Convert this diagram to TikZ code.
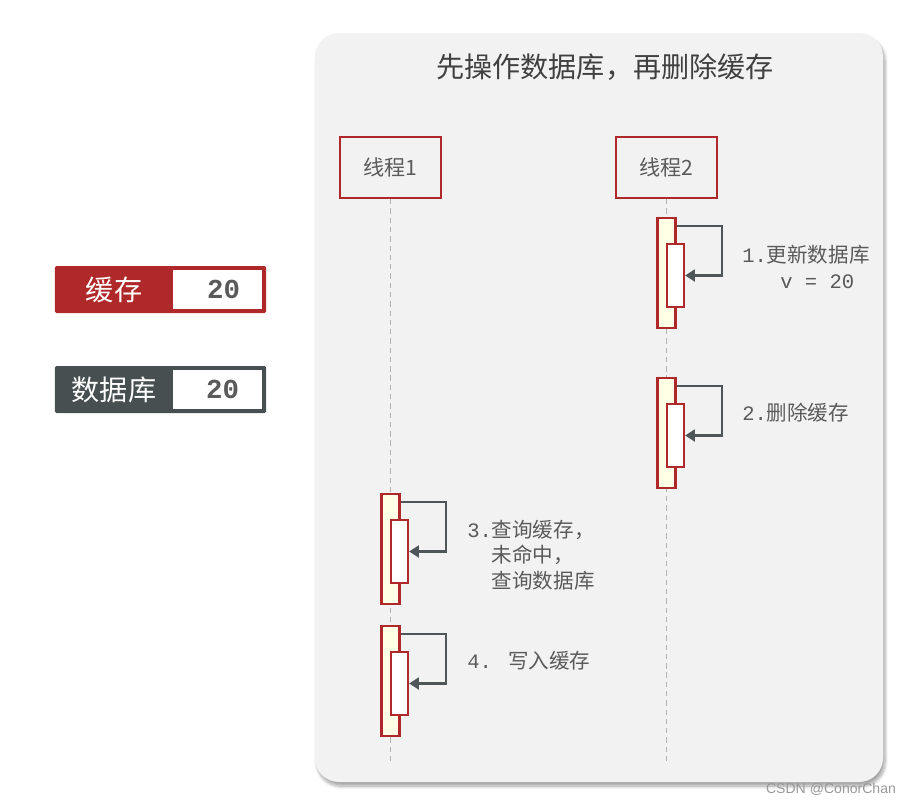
\documentclass[tikz,border=0pt]{standalone}
\usepackage{fontspec}
\setmainfont{Noto Sans CJK SC}
\newfontfamily\mono{Liberation Mono}
\newfontfamily\wmark{Liberation Sans}
\usetikzlibrary{arrows.meta,shadows.blur,positioning}

\definecolor{panelgray}{HTML}{F2F2F2}
\definecolor{threadred}{HTML}{B0292A}
\definecolor{actyellow}{HTML}{FFFFE6}
\definecolor{loopgray}{HTML}{4E5657}
\definecolor{textgray}{HTML}{5A5A5A}
\definecolor{titlegray}{HTML}{404040}
\definecolor{dbgray}{HTML}{474F50}

\tikzset{
  panel/.style={fill=panelgray, rounded corners=0.6cm,
    blur shadow={shadow xshift=1.5pt, shadow yshift=-3pt, shadow opacity=35, shadow blur steps=8}},
  thread/.style={draw=threadred, line width=1.6pt, minimum width=2.525cm, minimum height=1.525cm,
    inner sep=0pt, text=textgray, font=\fontsize{15}{18}\selectfont},
  lifeline/.style={draw=gray!60, line width=1.2pt, dash pattern=on 3.8pt off 2.8pt},
  outerbar/.style={draw=threadred, fill=actyellow, line width=1.6pt, minimum width=0.45cm,
    minimum height=2.75cm, inner sep=0pt},
  innerbar/.style={draw=threadred, fill=white, line width=1.6pt, minimum width=0.425cm,
    minimum height=1.575cm, inner sep=0pt},
  loopline/.style={draw=loopgray, line width=1.6pt, -{Triangle[length=7pt,width=8.5pt]}},
  steptext/.style={anchor=west, align=left, inner sep=0pt, text=textgray,
    font=\fontsize{14.6}{18}\selectfont},
  legendbox/.style={minimum width=5.275cm, minimum height=1.175cm, inner sep=0pt, rounded corners=1pt},
  valbox/.style={fill=white, minimum width=2.225cm, minimum height=0.975cm, inner sep=0pt,
    text=textgray, font=\mono\bfseries\fontsize{19.5}{22}\selectfont},
  legendlabel/.style={text=white, inner sep=0pt, font=\fontsize{20}{24}\selectfont}
}

\begin{document}
\begin{tikzpicture}[x=0.025cm, y=-0.025cm]
\useasboundingbox (0,0) rectangle (910,805);

% panel and title
\path[panel] (315,33) rectangle (883,782);
\node[text=titlegray, font=\fontsize{20}{24}\selectfont] (title) at (605,67) {先操作数据库，再删除缓存};

% threads
\node[thread] (t1) at (390.5,167.5) {线程1};
\node[thread] (t2) at (666.5,167.5) {线程2};
\coordinate (e1) at (390.5,765);
\coordinate (e2) at (666.5,765);
\draw[lifeline] (t1.south) -- (e1);
\draw[lifeline] (t2.south) -- (e2);

% activations with self calls
\foreach \n/\t/\y in {a/t2/273, b/t2/433, c/t1/549, d/t1/681} {
  \node[outerbar] (\n-o) at (\t |- 0,\y) {};
  \node[innerbar] (\n-i) at ([xshift=0.225cm,yshift=-0.0625cm]\n-o.center) {};
  \draw[loopline] ([yshift=-0.225cm]\n-o.north east) -- ++(45,0) |- (\n-i.east);
}

% step labels
\node[steptext] (s1) at (742,267) {{\mono 1.}更新数据库\\{\mono\hspace*{27pt}v = 20}};
\node[steptext] (s2) at (742,413) {{\mono 2.}删除缓存};
\node[steptext] (s3) at (467,555) {{\mono 3.}查询缓存，\\{\mono\phantom{3.}}未命中，\\{\mono\phantom{3.}}查询数据库};
\node[steptext] (s4) at (467,661) {{\mono 4. }写入缓存};

% legend
\node[legendbox, fill=threadred] (cache) at (160.5,289.5) {};
\node[valbox, anchor=east] (cacheval) at ([xshift=-0.1cm]cache.east) {\hspace*{0.3cm}20};
\node[legendlabel] (cachelbl) at (114,289.5) {缓存};
\node[legendbox, fill=dbgray] (db) at (160.5,389.5) {};
\node[valbox, anchor=east] (dbval) at ([xshift=-0.1cm]db.east) {\hspace*{0.25cm}20};
\node[legendlabel] (dblbl) at (114,389.5) {数据库};

% watermark
\node[text=gray!80, font=\wmark\fontsize{10}{12}\selectfont] (wm) at (831,789) {CSDN @ConorChan};
\end{tikzpicture}
\end{document}
